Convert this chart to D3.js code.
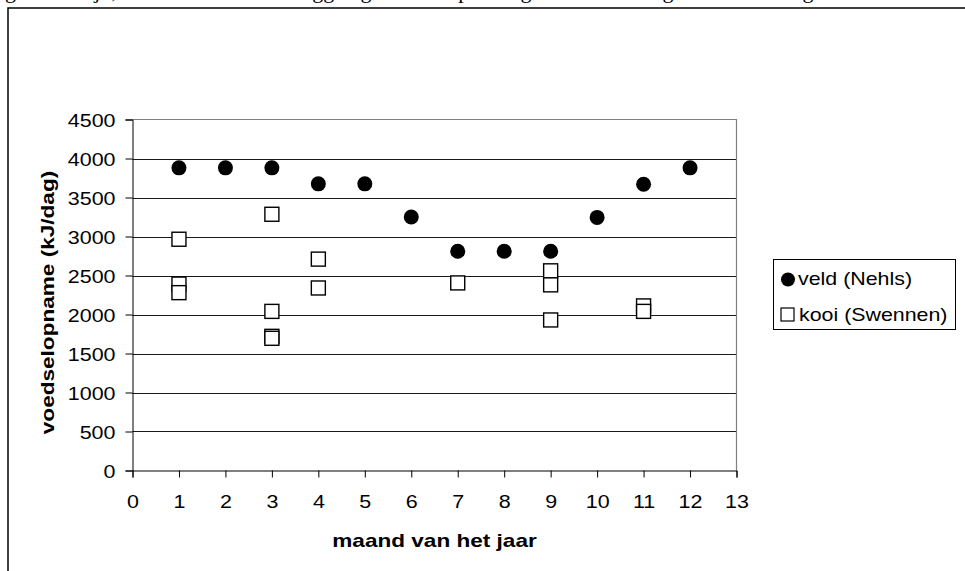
<!DOCTYPE html>
<html>
<head>
<meta charset="utf-8">
<script src="https://cdn.jsdelivr.net/npm/d3@7"></script>
<style>
  html, body { margin: 0; padding: 0; background: #fff; }
  svg { display: block; }
  text { font-family: Arial, "Liberation Sans", sans-serif; fill: #000; }
</style>
</head>
<body>
<script>
// Voedselopname per maand: veldwaarnemingen (Nehls) en kooiproeven (Swennen)
const veldMaand   = [1, 2, 3, 4, 5, 6, 7, 8, 9, 10, 11, 12];
const veldOpname  = [3880, 3880, 3880, 3675, 3675, 3250, 2810, 2810, 2810, 3245, 3670, 3880];

const kooiMaand   = [1, 1, 1, 3, 3, 3, 3, 4, 4, 7, 9, 9, 9, 11, 11];
const kooiOpname  = [2965, 2390, 2280, 3285, 2040, 1720, 1695, 2710, 2340, 2405, 2560, 2380, 1930, 2110, 2040];

const xTicks = [0, 1, 2, 3, 4, 5, 6, 7, 8, 9, 10, 11, 12, 13];
const yTicks = [0, 500, 1000, 1500, 2000, 2500, 3000, 3500, 4000, 4500];

const seriesNames = ["veld (Nehls)", "kooi (Swennen)"];
const xTitle = "maand van het jaar";
const yTitle = "voedselopname (kJ/dag)";
const bodyText = "gebruikelijk, maar de verschillen liggen gezien de spreiding binnen de marge van de metingen.";

const W = 965, H = 571;
const plot = { left: 132.5, right: 736.5, top: 119.5, bottom: 470.5 };
const FS = 18.5;      // base font size
const STRETCH = 1.16; // horizontal widening of the chart lettering

const svg = d3.select("body").append("svg")
  .attr("width", W).attr("height", H);

// widen text horizontally while keeping its anchor
function widen(sel, factor) {
  sel.each(function () {
    const len = this.getComputedTextLength();
    d3.select(this).attr("textLength", len * factor).attr("lengthAdjust", "spacingAndGlyphs");
  });
}

// running text of the page above the chart frame (only its lowest strip is on the page)
svg.append("text")
  .attr("x", 5).attr("y", -2)
  .style("font-family", "'Liberation Serif', 'Times New Roman', serif")
  .style("font-size", "22px")
  .text(bodyText);

// chart frame
svg.append("rect")
  .attr("x", 8).attr("y", 8)
  .attr("width", W + 10).attr("height", H + 10)
  .attr("fill", "none").attr("stroke", "#000").attr("stroke-width", 1.5);

const x = d3.scaleLinear().domain([0, 13]).range([plot.left, plot.right]);
const y = d3.scaleLinear().domain([0, 4500]).range([plot.bottom, plot.top]);

// gridlines
svg.append("g").selectAll("line")
  .data(yTicks.filter(v => v > 0 && v < 4500))
  .join("line")
  .attr("x1", plot.left).attr("x2", plot.right)
  .attr("y1", d => Math.round(y(d)) + 0.5).attr("y2", d => Math.round(y(d)) + 0.5)
  .attr("stroke", "#1a1a1a").attr("stroke-width", 1);

// plot area border (top and right)
svg.append("path")
  .attr("d", `M${plot.left},${plot.top}H${plot.right}V${plot.bottom}`)
  .attr("fill", "none").attr("stroke", "#808080").attr("stroke-width", 1.2);

// y axis
const yAxis = svg.append("g")
  .attr("transform", `translate(${plot.left},0)`)
  .call(d3.axisLeft(y).tickValues(yTicks).tickSize(7).tickPadding(10).tickFormat(d3.format("d")));
yAxis.select(".domain").attr("stroke", "#000");
yAxis.selectAll(".tick line").attr("stroke", "#000");
yAxis.selectAll(".tick text")
  .attr("font-size", null).attr("font-family", null)
  .style("font-size", FS + "px")
  .attr("dy", "0.36em");
widen(yAxis.selectAll(".tick text"), STRETCH);

// x axis
const xAxis = svg.append("g")
  .attr("transform", `translate(0,${plot.bottom})`)
  .call(d3.axisBottom(x).tickValues(xTicks).tickSize(7).tickPadding(0).tickFormat(d3.format("d")));
xAxis.select(".domain").attr("stroke", "#000");
xAxis.selectAll(".tick line").attr("stroke", "#000");
xAxis.selectAll(".tick text")
  .attr("font-size", null).attr("font-family", null)
  .style("font-size", FS + "px")
  .attr("y", 37).attr("dy", 0);
widen(xAxis.selectAll(".tick text"), STRETCH);
svg.selectAll(".tick text").attr("fill", "#000");

// axis titles
const xt = svg.append("text")
  .attr("x", (plot.left + plot.right) / 2).attr("y", 546.5)
  .attr("text-anchor", "middle")
  .style("font-size", FS + "px").style("font-weight", "bold")
  .text(xTitle);
widen(xt, 1.22);

const yt = svg.append("text")
  .attr("transform", "translate(54,302.5) rotate(-90)")
  .attr("text-anchor", "middle")
  .style("font-size", FS + "px").style("font-weight", "bold")
  .text(yTitle);
widen(yt, 1.22);

// series: veld (filled circles)
const R = 7.5;
svg.append("g").selectAll("circle")
  .data(veldMaand.map((m, i) => ({ m, v: veldOpname[i] })))
  .join("circle")
  .attr("cx", d => x(d.m)).attr("cy", d => y(d.v))
  .attr("r", R).attr("fill", "#000");

// series: kooi (open squares)
const S = 14;
svg.append("g").selectAll("rect")
  .data(kooiMaand.map((m, i) => ({ m, v: kooiOpname[i] })))
  .join("rect")
  .attr("x", d => x(d.m) - S / 2).attr("y", d => y(d.v) - S / 2)
  .attr("width", S).attr("height", S)
  .attr("fill", "#fff").attr("stroke", "#000").attr("stroke-width", 1.4);

// legend
const lg = svg.append("g");
lg.append("rect")
  .attr("x", 773.5).attr("y", 259.5).attr("width", 182).attr("height", 70)
  .attr("fill", "#fff").attr("stroke", "#000").attr("stroke-width", 1);
lg.append("circle").attr("cx", 788).attr("cy", 279.5).attr("r", 7).attr("fill", "#000");
lg.append("rect")
  .attr("x", 781).attr("y", 308).attr("width", 13).attr("height", 13)
  .attr("fill", "#fff").attr("stroke", "#000").attr("stroke-width", 1.2);
const l1 = lg.append("text").attr("x", 798).attr("y", 284.5)
  .style("font-size", FS + "px").text(seriesNames[0]);
const l2 = lg.append("text").attr("x", 799).attr("y", 320.5)
  .style("font-size", FS + "px").text(seriesNames[1]);
widen(l1, 1.155);
widen(l2, 1.155);
</script>
</body>
</html>
